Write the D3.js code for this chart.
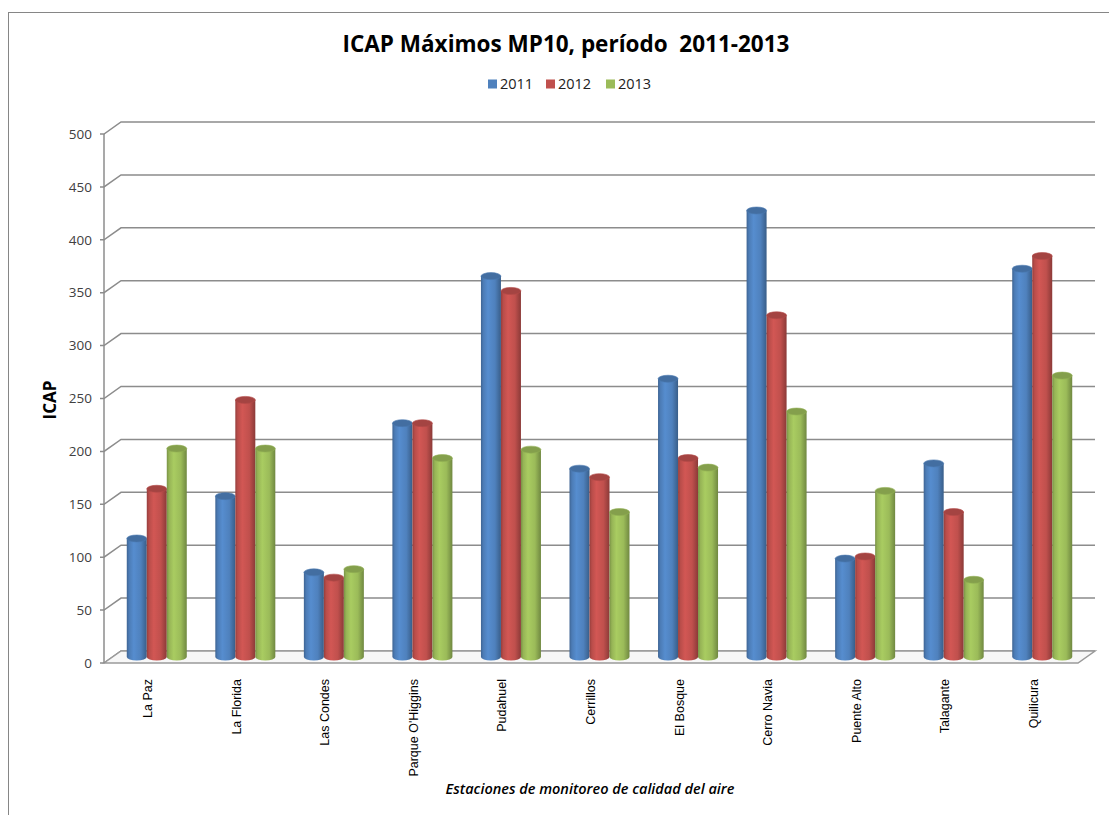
<!DOCTYPE html>
<html>
<head>
<meta charset="utf-8">
<script src="https://cdn.jsdelivr.net/npm/d3@7"></script>
<style>
  body { margin: 0; background: #fff; }
  svg { display: block; font-family: "Open Sans", "Liberation Sans", sans-serif; }
</style>
</head>
<body>
<svg id="chart" width="1109" height="815"></svg>
<script>
const categories = ["La Paz", "La Florida", "Las Condes", "Parque O'Higgins", "Pudahuel",
  "Cerrillos", "El Bosque", "Cerro Navia", "Puente Alto", "Talagante", "Quilicura"];
const years = ["2011", "2012", "2013"];
const values2011 = [112, 152, 80, 221, 360, 178, 263, 422, 93, 183, 367];
const values2012 = [159, 243, 75, 221, 346, 170, 188, 323, 95, 137, 379];
const values2013 = [197, 197, 83, 188, 196, 137, 179, 232, 157, 73, 266];
const yTicks = [0, 50, 100, 150, 200, 250, 300, 350, 400, 450, 500];
const colors = ["#4f81bd", "#c0504d", "#9bbb59"];

const series = [values2011, values2012, values2013];

const svg = d3.select("#chart");

// frame
svg.append("rect")
  .attr("x", 8.5).attr("y", 12.5)
  .attr("width", 1200).attr("height", 900)
  .attr("fill", "none").attr("stroke", "#868686").attr("stroke-width", 1);

// front plane and depth offset of the 3d box
const x0 = 104, x1 = 1078;
const depthX = 17, depthY = -12;

const y = d3.scaleLinear().domain([0, 500]).range([663, 134]);
const x = d3.scaleBand().domain(categories).range([x0, x1]).paddingInner(0).paddingOuter(0);
const xs = d3.scaleBand().domain(years).range([0, 60]);
const barOffset = (x.bandwidth() - 60) / 2;

const grid = svg.append("g");
// back gridlines + side wall diagonals
grid.selectAll(".grid")
  .data(yTicks)
  .join("path")
    .attr("class", "grid")
    .attr("fill", "none")
    .attr("stroke", "#8c8c8c")
    .attr("stroke-width", 1.5)
    .attr("d", d => `M${x0 - 4},${y(d)} L${x0},${y(d)} L${x0 + depthX},${y(d) + depthY} L${x1 + depthX},${y(d) + depthY}`);

// floor
grid.append("path")
  .attr("fill", "#f7f7f7")
  .attr("stroke", "#9a9a9a")
  .attr("stroke-width", 1.5)
  .attr("d", `M${x0},${y(0)} L${x1},${y(0)} L${x1 + depthX},${y(0) + depthY} L${x0 + depthX},${y(0) + depthY} Z`);

// front vertical axis
grid.append("line")
  .attr("x1", x0).attr("x2", x0)
  .attr("y1", y(500)).attr("y2", y(0))
  .attr("stroke", "#8c8c8c").attr("stroke-width", 1.5);

// tick labels
svg.selectAll(".tick-label")
  .data(yTicks)
  .join("text")
    .attr("class", "tick-label")
    .attr("x", x0 - 12)
    .attr("y", d => y(d))
    .attr("dy", "0.35em")
    .attr("text-anchor", "end")
    .style("font-size", "13.5px")
    .style("fill", "#404040")
    .text(d => d);

// gradients for cylinders
const defs = svg.append("defs");
colors.forEach((c, i) => {
  const base = d3.color(c);
  const g = defs.append("linearGradient")
    .attr("id", "cyl" + i)
    .attr("x1", "0%").attr("x2", "100%").attr("y1", "0%").attr("y2", "0%");
  g.append("stop").attr("offset", "0%").attr("stop-color", base.darker(0.7));
  g.append("stop").attr("offset", "12%").attr("stop-color", base.darker(0.1));
  g.append("stop").attr("offset", "35%").attr("stop-color", base.brighter(0.25));
  g.append("stop").attr("offset", "70%").attr("stop-color", base);
  g.append("stop").attr("offset", "100%").attr("stop-color", base.darker(0.9));
});

// bars sit at mid depth
const midX = depthX / 2, midY = depthY / 2;
const rx = xs.bandwidth() / 2, ry = 3.5;

const bars = [];
series.forEach((vals, si) => {
  vals.forEach((v, ci) => bars.push({ cat: categories[ci], year: years[si], si: si, value: v }));
});

const barG = svg.append("g");
const bar = barG.selectAll(".bar")
  .data(bars)
  .join("g")
    .attr("class", "bar");

bar.append("path")
  .attr("fill", d => `url(#cyl${d.si})`)
  .attr("d", d => {
    const l = x(d.cat) + barOffset + xs(d.year) + midX;
    const r = l + xs.bandwidth();
    const top = y(d.value) + midY;
    const bot = y(0) + midY;
    return `M${l},${top} L${l},${bot} A${rx},${ry} 0 0 0 ${r},${bot} L${r},${top} Z`;
  });

bar.append("ellipse")
  .attr("cx", d => x(d.cat) + barOffset + xs(d.year) + midX + rx)
  .attr("cy", d => y(d.value) + midY)
  .attr("rx", rx)
  .attr("ry", ry)
  .attr("fill", d => d3.color(colors[d.si]).darker(0.45))
  .attr("stroke", d => d3.color(colors[d.si]).darker(0.2))
  .attr("stroke-width", 0.6);

// category labels
svg.selectAll(".cat-label")
  .data(categories)
  .join("text")
    .attr("class", "cat-label")
    .attr("transform", d => `translate(${x(d) + x.bandwidth() / 2 + 4},${679}) rotate(-90)`)
    .attr("text-anchor", "end")
    .style("font-family", "'Liberation Sans', Arial, sans-serif")
    .style("font-size", "12.5px")
    .style("fill", "#000")
    .text(d => d);

// title
svg.append("text")
  .attr("x", 566)
  .attr("y", 52)
  .attr("text-anchor", "middle")
  .attr("xml:space", "preserve")
  .style("font-size", "22.5px")
  .style("font-weight", "bold")
  .style("fill", "#000")
  .text("ICAP Máximos MP10, período  2011-2013");

// legend
const legendX = [488, 546, 606];
const legend = svg.selectAll(".legend")
  .data(years)
  .join("g")
    .attr("class", "legend")
    .attr("transform", (d, i) => `translate(${legendX[i]},84)`);
legend.append("rect")
  .attr("x", 0).attr("y", -4.5)
  .attr("width", 9).attr("height", 9)
  .attr("fill", (d, i) => colors[i]);
legend.append("text")
  .attr("x", 12)
  .attr("dy", "0.35em")
  .style("font-size", "14.5px")
  .style("fill", "#222")
  .text(d => d);

// axis titles
svg.append("text")
  .attr("transform", "translate(56,400) rotate(-90)")
  .attr("text-anchor", "middle")
  .style("font-size", "17px")
  .style("font-weight", "bold")
  .style("fill", "#000")
  .text("ICAP");

svg.append("text")
  .attr("x", 590)
  .attr("y", 794)
  .attr("text-anchor", "middle")
  .style("font-size", "14.5px")
  .style("font-style", "italic")
  .style("font-weight", "600")
  .style("fill", "#000")
  .text("Estaciones de monitoreo de calidad del aire");
</script>
</body>
</html>
